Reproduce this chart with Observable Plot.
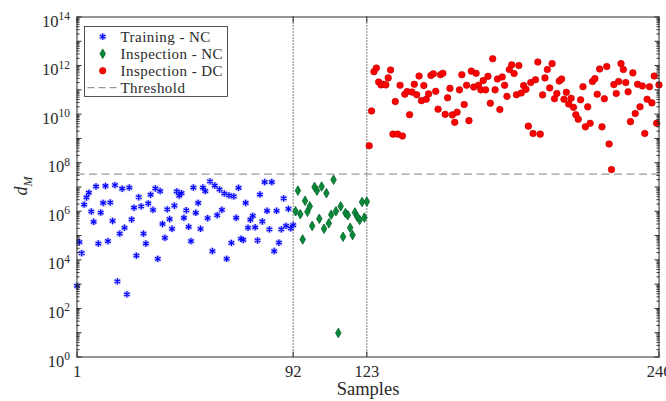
<!DOCTYPE html>
<html>
<head>
<meta charset="utf-8">
<script src="https://cdn.jsdelivr.net/npm/d3@7"></script>
<script src="https://cdn.jsdelivr.net/npm/@observablehq/plot@0.6"></script>
<style>
  html, body { margin: 0; padding: 0; background: #fff; }
  #chart { width: 666px; height: 401px; overflow: hidden; }
</style>
</head>
<body>
<div id="chart"></div>
<script>
// ---------------- data ----------------
const xTicks = [1, 92, 123, 246];
const yMajorExponents = [0, 1, 2, 3, 4, 5, 6, 7, 8, 9, 10, 11, 12, 13, 14];
const yLabelExponents = [0, 2, 4, 6, 8, 10, 12, 14];
const boundaries = [92, 123];
const threshold = 3.4e7;

const trainingStart = 1;
const inspectionNCStart = 93;
const inspectionDCStart = 124;

const trainingNC = [
  8.5e2, 5.4e4, 1.9e4, 1.9e6, 3.7e6, 5.8e6, 9.8e5, 3.7e5, 1.05e7, 4.7e4,
  8.9e5, 2.2e6, 1.1e7, 5.9e4, 2.3e6, 4.0e5, 1.2e7, 1.3e3, 1.2e5, 8.5e6,
  2.1e5, 3.8e2, 9.5e6, 4.6e5, 1.4e6, 1.5e4, 3.8e6, 1.6e6, 1.2e5, 4.7e4,
  2.1e6, 4.8e6, 1.15e6, 8.7e6, 1.1e4, 6.8e6, 3.0e5, 8.1e4, 1.2e6, 4.8e5,
  1.9e5, 1.7e6, 6.6e6, 4.4e6, 5.6e6, 5.4e5, 1.1e6, 2.3e5, 5.9e4, 9.5e6,
  8.7e5, 2.2e6, 1.9e5, 9.5e6, 6.8e6, 5.2e5, 1.7e7, 2.3e4, 1.15e7, 6.9e5,
  7.9e6, 1.15e6, 5.4e6, 1.1e4, 4.5e6, 5.0e4, 4.1e6, 5.4e5, 9.3e6, 7.4e4,
  6.6e4, 2.2e6, 2.1e5, 4.5e5, 6.5e5, 2.2e5, 6.3e4, 4.9e6, 3.8e5, 1.6e7,
  1.05e6, 1.8e5, 1.6e7, 2.3e4, 1.05e6, 5.1e4, 1.8e5, 3.4e6, 2.5e5, 1.26e6,
  2.0e5, 2.7e5
];

const inspectionNC = [
  1.0e6, 7.1e6, 7.6e5, 6.9e4, 2.7e6, 9.5e5, 1.6e6, 2.5e5, 1.0e7, 7.1e6,
  4.9e5, 1.05e7, 1.9e5, 5.6e6, 3.2e5, 7.2e5, 2.0e7, 1.0e6, 9.8e0, 1.6e6,
  8.9e4, 8.5e5, 6.9e5, 2.1e5, 1.05e5, 8.9e5, 5.9e5, 4.4e5, 2.4e6, 5.5e5,
  2.5e6
];

const inspectionDC = [
  5.0e8, 1.35e10, 5.6e11, 7.9e11, 2.1e11, 1.6e11, 1.7e11, 1.6e11, 3.1e11, 6.6e11,
  1.5e9, 3.3e10, 1.5e9, 1.55e11, 1.26e9, 6.6e10, 8.5e10, 9.5e9, 8.1e10, 1.7e11,
  6.3e10, 3.7e11, 3.6e10, 1.5e11, 4.1e10, 6.8e10, 3.9e11, 4.6e11, 8.7e10, 1.6e10,
  4.2e11, 4.8e11, 9.8e9, 4.7e10, 1.15e11, 9.3e9, 4.6e9, 1.2e10, 1.0e11, 4.2e11,
  2.5e10, 1.55e11, 5.4e9, 5.9e11, 1.3e11, 4.8e11, 1.55e11, 1.0e11, 2.4e11, 1.0e11,
  3.6e11, 2.8e10, 1.9e12, 1.0e11, 2.8e11, 1.55e10, 3.4e11, 1.55e11, 5.4e10, 6.9e11,
  1.07e12, 4.7e11, 6.3e10, 1.0e12, 7.4e10, 1.5e11, 1.05e11, 3.2e9, 2.0e11, 1.6e9,
  2.6e11, 1.4e12, 1.5e9, 6.2e10, 3.1e11, 6.9e11, 1.2e11, 1.2e12, 4.3e10, 7.1e10,
  2.3e11, 2.8e11, 4.1e10, 7.9e10, 2.6e10, 4.5e10, 1.9e10, 9.5e9, 6.2e9, 3.9e10,
  1.35e11, 3.0e9, 2.0e10, 4.2e9, 2.2e11, 2.9e11, 6.6e10, 7.2e11, 3.0e9, 4.3e10,
  9.1e11, 5.9e8, 5.2e7, 1.65e11, 7.1e10, 2.2e11, 1.2e12, 6.9e11, 2.0e11, 8.3e10,
  4.9e9, 5.0e11, 1.07e10, 1.7e11, 2.0e10, 1.45e11, 1.6e9, 4.1e10, 1.35e11, 2.9e10,
  3.7e11, 4.2e9, 1.6e11
];

const legendLabels = ["Training - NC", "Inspection - NC", "Inspection - DC", "Threshold"];

// ---------------- styles ----------------
const FONT = "'Liberation Serif', 'Times New Roman', 'DejaVu Serif', serif";
const INK = "#2a2a2a";
const BLUE = "#0000ff";
const GREEN = "#078a38";
const GREEN_EDGE = "#04602a";
const RED = "#ff0000";
const RED_EDGE = "#b80000";
const GRAY = "#808080";

const rStar = 3, rDiamond = 2.9, rCircle = 3.3;

// ---------------- build ----------------
const toRows = (vals, start) => vals.map((v, i) => ({sample: start + i, dM: v}));
const training = toRows(trainingNC, trainingStart);
const inspNC = toRows(inspectionNC, inspectionNCStart);
const inspDC = toRows(inspectionDC, inspectionDCStart);

const yMajor = yMajorExponents.map(e => 10 ** e);
const yLabels = yLabelExponents.map(e => 10 ** e);
const yMinor = [];
for (const e of yMajorExponents.slice(0, -1)) for (let m = 2; m <= 9; m++) yMinor.push(m * 10 ** e);

const blank = () => "";

const chart = Plot.plot({
  width: 666,
  height: 401,
  marginLeft: 76.5,
  marginRight: 7.5,
  marginTop: 16.5,
  marginBottom: 44.5,
  style: {fontFamily: FONT, fontSize: "16px", color: INK, background: "#fff", overflow: "hidden"},
  x: {domain: [1, 246], label: null},
  y: {type: "log", domain: [1, 1e14], label: null},
  marks: [
    Plot.ruleX(boundaries, {stroke: "#000", strokeWidth: 1, strokeDasharray: "1,2"}),
    Plot.ruleY([threshold], {stroke: GRAY, strokeWidth: 1, strokeDasharray: "8,4.5"}),
    Plot.dot(training, {x: "sample", y: "dM", r: rStar + 0.6, fill: BLUE, fillOpacity: 0.22, stroke: "none"}),
    Plot.dot(training, {x: "sample", y: "dM", symbol: "asterisk", r: rStar, stroke: BLUE, strokeWidth: 1.2}),
    Plot.dot(inspNC, {x: "sample", y: "dM", symbol: "diamond", r: rDiamond, fill: GREEN, stroke: GREEN_EDGE, strokeWidth: 0.8}),
    Plot.dot(inspDC, {x: "sample", y: "dM", symbol: "circle", r: rCircle, fill: RED, stroke: RED_EDGE, strokeWidth: 0.6}),
    Plot.frame({stroke: INK, strokeWidth: 1}),
    Plot.axisX(xTicks, {anchor: "bottom", tickSize: -5, tickFormat: blank, label: null, stroke: INK}),
    Plot.axisX(xTicks, {anchor: "top", tickSize: -5, tickFormat: blank, label: null, stroke: INK}),
    Plot.axisX(xTicks, {anchor: "bottom", tickSize: 0, tickPadding: 8, label: null, fill: INK, fontSize: 16.5}),
    Plot.axisY(yMajor, {anchor: "left", tickSize: -5, tickFormat: blank, label: null, stroke: INK}),
    Plot.axisY(yMajor, {anchor: "right", tickSize: -5, tickFormat: blank, label: null, stroke: INK}),
    Plot.axisY(yMinor, {anchor: "left", tickSize: -3, tickFormat: blank, label: null, stroke: INK}),
    Plot.axisY(yMinor, {anchor: "right", tickSize: -3, tickFormat: blank, label: null, stroke: INK}),
    Plot.axisY(yLabels, {anchor: "left", tickSize: 0, tickPadding: 7, label: null, fill: INK, fontSize: 16.5,
      tickFormat: d => "10^" + Math.round(Math.log10(d))}),
    Plot.text(["Samples"], {frameAnchor: "bottom", lineAnchor: "middle", dy: 32.5, fontSize: 18.5, fill: INK})
  ]
});

document.getElementById("chart").appendChild(chart);

// superscript exponents on the y tick labels
const NS = "http://www.w3.org/2000/svg";
chart.querySelectorAll("text").forEach(t => {
  const m = /^10\^(\d+)$/.exec(t.textContent);
  if (!m) return;
  t.textContent = "";
  const yAttr = t.getAttribute("y");
  if (yAttr && /em$/.test(yAttr)) t.removeAttribute("y");
  t.setAttribute("dy", "9.5");
  const base = document.createElementNS(NS, "tspan");
  base.textContent = "10";
  const sup = document.createElementNS(NS, "tspan");
  sup.setAttribute("dy", "-6.5");
  sup.setAttribute("font-size", "11.5");
  sup.textContent = m[1];
  t.appendChild(base);
  t.appendChild(sup);
});

const svg = d3.select(chart);

// y axis label  d_M
const yl = svg.append("text")
  .attr("transform", "translate(27,186) rotate(-90)")
  .attr("text-anchor", "middle")
  .attr("font-family", FONT)
  .attr("fill", INK);
yl.append("tspan").attr("font-style", "italic").attr("font-size", 18).text("d");
yl.append("tspan").attr("font-style", "italic").attr("font-size", 12).attr("dy", 5).text("M");

// legend
const lg = svg.append("g").attr("font-family", FONT).attr("font-size", 15).attr("fill", INK)
  .attr("text-anchor", "start").attr("letter-spacing", "0.45");
lg.append("rect").attr("x", 84.5).attr("y", 26.5).attr("width", 143).attr("height", 70)
  .attr("fill", "#fff").attr("stroke", INK).attr("stroke-width", 0.8);
const rowY = i => 36.7 + 17 * i;
const mx = 102.7;
const area = r => Math.PI * r * r;
lg.append("circle").attr("cx", mx).attr("cy", rowY(0)).attr("r", rStar + 0.6)
  .attr("fill", BLUE).attr("fill-opacity", 0.22);
lg.append("path").attr("transform", `translate(${mx},${rowY(0)})`)
  .attr("d", d3.symbol(d3.symbolAsterisk, area(rStar))())
  .attr("fill", "none").attr("stroke", BLUE).attr("stroke-width", 1.2);
lg.append("path").attr("transform", `translate(${mx},${rowY(1)})`)
  .attr("d", d3.symbol(d3.symbolDiamond, area(rDiamond))())
  .attr("fill", GREEN).attr("stroke", GREEN_EDGE).attr("stroke-width", 0.8);
lg.append("circle").attr("cx", mx).attr("cy", rowY(2)).attr("r", rCircle)
  .attr("fill", RED).attr("stroke", RED_EDGE).attr("stroke-width", 0.6);
lg.append("line").attr("x1", 87.5).attr("x2", 119).attr("y1", rowY(3)).attr("y2", rowY(3))
  .attr("stroke", GRAY).attr("stroke-dasharray", "7,4");
legendLabels.forEach((s, i) => {
  lg.append("text").attr("x", 120.5).attr("y", rowY(i)).attr("dy", "0.35em")
    .attr("text-anchor", "start").text(s);
});
</script>
</body>
</html>
